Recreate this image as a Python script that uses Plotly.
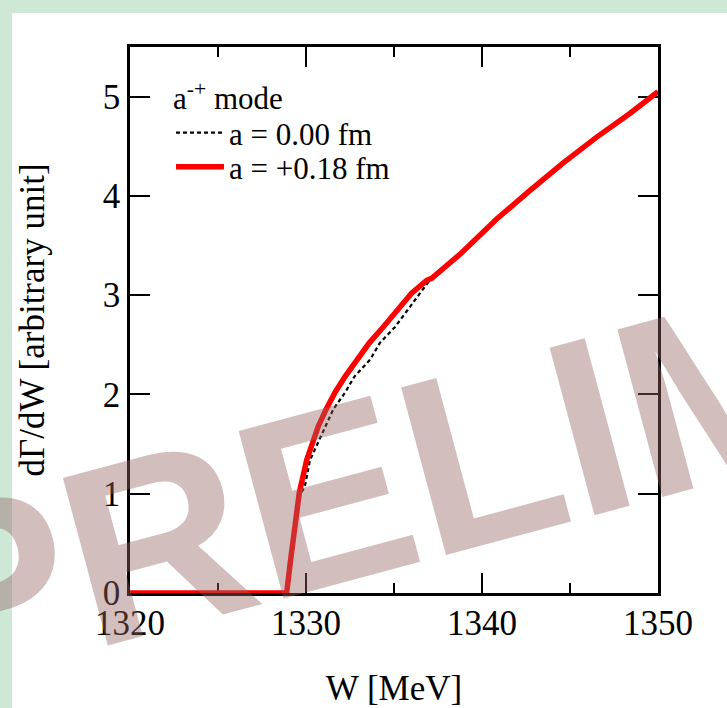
import plotly.graph_objects as go

# ---- data ----
w_red = [1320.0, 1328.9, 1329.13, 1329.34, 1329.62, 1330.04, 1330.70, 1331.14, 1331.65,
         1332.22, 1332.88, 1333.6, 1334.39, 1335.19, 1336.0, 1336.86, 1337.14, 1338.8,
         1340.85, 1342.7, 1344.6, 1346.5, 1348.4, 1350.0]
v_red = [0.0, 0.0, 0.34, 0.68, 1.01, 1.34, 1.68, 1.85, 2.02,
         2.18, 2.35, 2.52, 2.68, 2.85, 3.02, 3.15, 3.17, 3.42,
         3.77, 4.05, 4.33, 4.59, 4.83, 5.05]

w_blk = [1320.0, 1328.9, 1329.13, 1329.34, 1329.62, 1329.94, 1330.23, 1331.08, 1331.55,
         1332.22, 1332.75, 1333.64, 1334.2, 1335.06, 1335.75, 1336.48, 1336.9, 1337.14,
         1338.8, 1340.85, 1342.7, 1344.6, 1346.5, 1348.4, 1350.0]
v_blk = [0.0, 0.0, 0.32, 0.64, 0.97, 1.08, 1.34, 1.68, 1.85,
         2.02, 2.18, 2.35, 2.52, 2.68, 2.85, 3.02, 3.12, 3.17,
         3.42, 3.77, 4.05, 4.33, 4.59, 4.83, 5.05]

x_ticks = [1320, 1330, 1340, 1350]
y_ticks = [0, 1, 2, 3, 4, 5]
legend_title = "a<sup>-+</sup> mode"
name_blk = "a = 0.00 fm"
name_red = "a = +0.18 fm"
x_title = "W [MeV]"
y_title = "dΓ/dW [arbitrary unit]"
watermark = "PRELIMINARY"

SERIF = "Liberation Serif, Times New Roman, serif"
LEG_SIZE = 31

W, H = 727, 708
L, R, T, B = 130, 69, 47, 115
pw, ph = W - L - R, H - T - B

def px2paper(px, py):
    return (px - L) / pw, (H - B - py) / ph

fig = go.Figure()
fig.add_trace(go.Scatter(x=w_blk, y=v_blk, mode="lines", name=name_blk, legend="legend",
                         line=dict(color="black", width=2.2, dash="4px,3px")))
fig.add_trace(go.Scatter(x=w_red, y=v_red, mode="lines", name=name_red, legend="legend2",
                         line=dict(color="#ff0000", width=5.5)))

# white page area with green frame on top/left
x0, y0 = px2paper(12, H)
x1, y1 = px2paper(W, 13)
fig.add_shape(type="rect", xref="paper", yref="paper", x0=x0, x1=x1, y0=y0, y1=y1,
              fillcolor="white", line=dict(width=0), layer="below")

# legend title as text
tx, ty = px2paper(171, 118)
fig.add_annotation(text=legend_title, xref="paper", yref="paper", x=tx, y=ty,
                   xanchor="left", yanchor="bottom", showarrow=False,
                   font=dict(family=SERIF, size=LEG_SIZE, color="black"))

wx, wy = px2paper(740, 385)
fig.add_annotation(text=watermark, xref="paper", yref="paper", x=wx, y=wy,
                   xanchor="center", yanchor="middle", showarrow=False, textangle=-15,
                   font=dict(family="Liberation Sans, Arial, sans-serif", size=252,
                             weight="bold", color="rgba(150,100,100,0.42)"))

axis_common = dict(showline=True, linecolor="black", linewidth=2.5, mirror="allticks",
                   ticks="inside", ticklen=20, tickwidth=2, tickcolor="black",
                   showgrid=False, zeroline=False, layer="below traces",
                   tickfont=dict(family=SERIF, size=35, color="black"))

l1x, l1y = px2paper(171, 133)
l2x, l2y = px2paper(171, 167)
leg_common = dict(xanchor="left", yanchor="middle", bgcolor="rgba(0,0,0,0)",
                  font=dict(family=SERIF, size=LEG_SIZE, color="black"), itemwidth=48)

fig.update_layout(
    width=W, height=H,
    margin=dict(l=L, r=R, t=T, b=B, autoexpand=False),
    paper_bgcolor="#cde9d6", plot_bgcolor="white",
    showlegend=True,
    legend=dict(x=l1x, y=l1y, **leg_common),
    legend2=dict(x=l2x, y=l2y, **leg_common),
    xaxis=dict(range=[1320, 1350], tickvals=x_ticks, ticklabelstandoff=-3,
               minor=dict(dtick=5, ticklen=10, tickwidth=2, ticks="inside", tickcolor="black", showgrid=False),
               title=dict(text=x_title, font=dict(family=SERIF, size=35, color="black"), standoff=42),
               **axis_common),
    yaxis=dict(range=[0, 5.5], tickvals=y_ticks, ticklabelstandoff=0,
               title=dict(text=y_title, font=dict(family=SERIF, size=35, color="black"), standoff=48),
               **axis_common),
)

fig.write_html("out.html")
